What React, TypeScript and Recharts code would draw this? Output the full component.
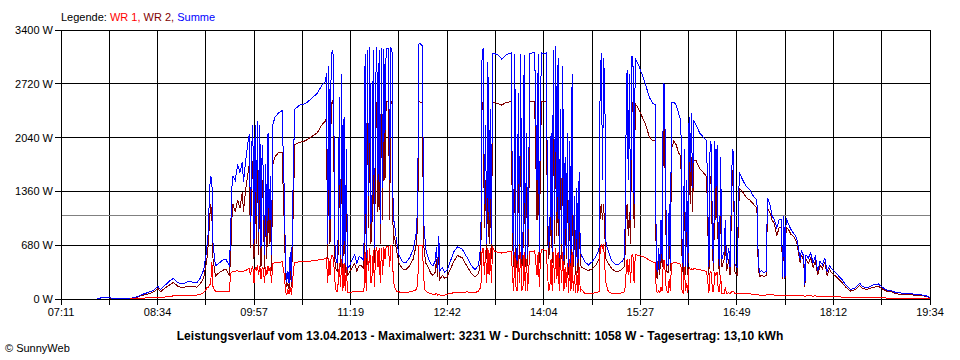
import { LineChart, Line, XAxis, YAxis, CartesianGrid, ReferenceLine } from 'recharts'

// minute of day for each sample
const minutes = [
  462, 466, 470, 474, 480, 490, 496, 500, 505, 510,
  514, 516, 520, 524, 527, 531, 535, 539, 543, 547,
  550, 553, 555, 556, 557, 558, 559, 560, 561, 563,
  566, 569, 572, 575, 576, 577, 578, 580, 582, 584,
  586, 587, 589, 591, 592, 593, 594, 595, 596, 597,
  598, 599, 600, 601, 602, 603, 604, 605, 606, 607,
  608, 609, 610, 611, 612, 614, 617, 620, 622, 623,
  624, 625, 626, 627, 628, 630, 631, 635, 640, 645,
  650, 654, 657, 658, 659, 660, 661, 662, 663, 664,
  665, 666, 667, 668, 669, 670, 671, 672, 673, 674,
  675, 676, 678, 680, 682, 684, 686, 688, 690, 691,
  692, 693, 694, 695, 696, 697, 698, 699, 700, 701,
  702, 703, 704, 705, 706, 707, 708, 709, 711, 712,
  713, 714, 715, 716, 718, 720, 723, 726, 729, 732,
  735, 736, 737, 738, 740, 741, 742, 743, 745, 747,
  749, 751, 752, 753, 754, 755, 757, 759, 761, 764,
  767, 770, 774, 778, 782, 785, 788, 790, 791, 792,
  793, 794, 795, 796, 797, 798, 799, 800, 802, 805,
  808, 811, 814, 816, 817, 818, 819, 820, 821, 822,
  823, 824, 825, 826, 827, 828, 829, 830, 831, 832,
  834, 836, 838, 839, 840, 841, 842, 844, 846, 847,
  848, 849, 850, 851, 852, 853, 854, 855, 856, 857,
  858, 859, 860, 861, 862, 863, 864, 865, 866, 867,
  868, 869, 870, 871, 872, 873, 874, 875, 876, 879,
  882, 885, 888, 891, 892, 893, 894, 895, 896, 897,
  899, 902, 905, 908, 911, 913, 914, 915, 916, 917,
  918, 919, 920, 921, 922, 925, 928, 931, 934, 937,
  939, 940, 941, 942, 943, 944, 945, 946, 947, 948,
  949, 950, 951, 952, 953, 955, 957, 959, 961, 962,
  963, 964, 965, 966, 967, 968, 969, 970, 971, 972,
  974, 977, 980, 983, 985, 986, 987, 988, 989, 990,
  991, 992, 993, 994, 995, 996, 998, 999, 1000, 1002,
  1003, 1005, 1006, 1007, 1009, 1011, 1014, 1017, 1020, 1023,
  1026, 1027, 1028, 1030, 1032, 1034, 1035, 1037, 1039, 1041,
  1043, 1045, 1047, 1048, 1049, 1050, 1051, 1053, 1055, 1058,
  1060, 1062, 1063, 1064, 1066, 1067, 1068, 1070, 1072, 1074,
  1076, 1078, 1080, 1082, 1084, 1086, 1088, 1090, 1094, 1098,
  1102, 1106, 1110, 1114, 1116, 1120, 1126, 1130, 1133, 1137,
  1141, 1145, 1150, 1155, 1160, 1165, 1170, 1173, 1174,
]

const wr1 = [
  0, 0, 0, 0, 0, 0, 5, 10, 15, 15,
  20, 20, 25, 30, 40, 40, 45, 45, 50, 50,
  60, 80, 120, 150, 150, 170, 200, 470, 150, 100,
  100, 100, 100, 100, 320, 340, 350, 350, 360, 340,
  350, 350, 360, 380, 380, 300, 380, 420, 200, 400,
  350, 430, 300, 420, 250, 400, 380, 200, 400, 300,
  420, 350, 400, 200, 450, 460, 460, 470, 300, 100,
  50, 120, 60, 150, 50, 400, 460, 470, 470, 480,
  490, 500, 510, 520, 200, 520, 300, 540, 550, 520,
  250, 120, 90, 200, 450, 150, 500, 100, 450, 100,
  400, 80, 80, 90, 90, 90, 90, 90, 100, 600,
  100, 620, 350, 650, 200, 300, 620, 150, 600, 650,
  400, 650, 200, 650, 300, 660, 500, 660, 660, 400,
  670, 670, 300, 150, 100, 90, 80, 80, 90, 100,
  120, 200, 680, 680, 680, 300, 120, 100, 80, 70,
  60, 60, 70, 50, 60, 50, 50, 50, 60, 70,
  80, 80, 80, 90, 80, 80, 100, 150, 600, 650,
  300, 620, 200, 650, 300, 640, 200, 650, 600, 590,
  580, 590, 600, 600, 300, 100, 600, 150, 100, 550,
  200, 600, 100, 150, 600, 100, 500, 100, 400, 600,
  600, 610, 300, 600, 150, 550, 620, 620, 610, 300,
  100, 150, 500, 100, 600, 200, 650, 250, 600, 100,
  550, 200, 600, 100, 400, 150, 450, 80, 500, 100,
  600, 100, 300, 80, 350, 80, 400, 100, 120, 70,
  70, 70, 80, 90, 650, 680, 650, 680, 400, 200,
  90, 70, 70, 70, 80, 90, 300, 500, 300, 500,
  200, 550, 560, 200, 560, 550, 540, 520, 490, 470,
  460, 100, 80, 100, 80, 150, 100, 480, 490, 200,
  100, 80, 250, 100, 450, 460, 460, 450, 440, 100,
  80, 400, 100, 200, 80, 400, 370, 380, 370, 380,
  380, 370, 360, 350, 80, 350, 340, 100, 100, 340,
  300, 340, 100, 100, 300, 70, 70, 150, 70, 80,
  70, 100, 100, 70, 70, 70, 70, 70, 65, 60,
  60, 60, 50, 50, 50, 50, 60, 60, 55, 50,
  50, 50, 50, 40, 50, 40, 50, 50, 50, 50,
  45, 45, 40, 45, 40, 30, 40, 40, 40, 35,
  40, 35, 35, 35, 30, 30, 30, 30, 30, 25,
  20, 15, 15, 20, 15, 15, 15, 15, 15, 12,
  12, 10, 10, 10, 8, 8, 5, 3, 0,
]

const wr2 = [
  0, 15, 20, 10, 5, 5, 20, 45, 60, 90,
  130, 90, 140, 180, 210, 160, 140, 160, 160, 150,
  190, 270, 430, 540, 700, 1000, 1200, 1050, 500, 290,
  330, 360, 380, 300, 500, 1000, 1200, 1100, 1250, 1150,
  1350, 1100, 1400, 1600, 1700, 650, 1500, 1750, 500, 1700,
  700, 1750, 550, 1700, 400, 1500, 1200, 380, 1300, 500,
  1600, 700, 1200, 350, 1700, 1800, 1850, 1850, 900, 300,
  150, 200, 120, 400, 150, 1400, 1950, 1980, 2000, 2050,
  2100, 2200, 2250, 2300, 500, 2350, 700, 2450, 2500, 2450,
  500, 380, 350, 600, 2100, 400, 2300, 360, 1800, 330,
  1500, 300, 350, 400, 450, 350, 430, 420, 380, 2400,
  400, 2480, 900, 2490, 700, 1000, 2480, 450, 2000, 2490,
  1100, 2490, 700, 2490, 1000, 2490, 1500, 2490, 2490, 1000,
  2490, 2490, 700, 800, 600, 450, 380, 370, 420, 500,
  700, 1000, 2490, 2490, 2480, 700, 550, 450, 400, 330,
  300, 340, 500, 280, 700, 250, 300, 260, 280, 380,
  480, 550, 520, 420, 320, 280, 320, 500, 2450, 2490,
  900, 1500, 500, 2300, 700, 1700, 500, 2490, 2480, 2470,
  2450, 2480, 2490, 2490, 800, 400, 2480, 500, 380, 2000,
  500, 2490, 380, 600, 2480, 400, 1500, 420, 1200, 2490,
  2490, 2490, 1000, 2490, 450, 2000, 2490, 2490, 2490, 800,
  500, 700, 1500, 450, 2490, 700, 2490, 800, 2400, 400,
  1800, 500, 2300, 350, 1300, 500, 1600, 300, 1500, 350,
  2200, 400, 900, 300, 1000, 330, 1200, 450, 400, 380,
  360, 380, 420, 500, 1100, 1200, 1000, 1200, 800, 500,
  450, 380, 350, 350, 380, 420, 1000, 1200, 800, 1100,
  700, 2480, 2480, 900, 2470, 2400, 2300, 2200, 2050, 2000,
  2000, 300, 250, 500, 300, 800, 400, 2150, 2150, 1000,
  350, 330, 900, 350, 1900, 2000, 1950, 1850, 1800, 500,
  300, 1500, 300, 1200, 300, 1800, 1200, 1800, 1100, 1750,
  1750, 1650, 1600, 1550, 300, 1550, 1500, 600, 350, 1550,
  1000, 1500, 500, 300, 1400, 400, 500, 800, 350, 500,
  300, 1600, 1650, 350, 300, 1400, 1350, 1280, 1250, 1200,
  1150, 500, 280, 300, 280, 300, 1150, 1100, 1000, 950,
  800, 900, 900, 250, 950, 250, 900, 880, 820, 780,
  720, 540, 450, 560, 480, 150, 500, 450, 520, 400,
  480, 300, 430, 380, 470, 300, 380, 330, 280, 220,
  150, 100, 120, 170, 140, 120, 150, 160, 130, 100,
  90, 65, 60, 55, 50, 45, 35, 20, 5,
]

const summe = [
  0, 18, 25, 12, 6, 8, 28, 55, 80, 110,
  160, 115, 175, 230, 260, 205, 190, 215, 215, 205,
  260, 370, 560, 700, 850, 1400, 1540, 1520, 690, 420,
  450, 490, 500, 420, 800, 1400, 1550, 1500, 1700, 1600,
  1730, 1480, 1760, 2000, 2080, 970, 1900, 2200, 700, 2200,
  1050, 2250, 850, 2200, 640, 1950, 1600, 560, 1700, 800,
  2100, 1000, 1550, 560, 2200, 2300, 2350, 2380, 1300, 400,
  220, 350, 200, 600, 220, 1900, 2400, 2450, 2470, 2530,
  2600, 2700, 2750, 2850, 700, 2950, 1000, 3050, 3150, 3050,
  750, 520, 450, 800, 2550, 550, 2850, 460, 2300, 430,
  1900, 380, 430, 500, 560, 450, 540, 520, 480, 3100,
  520, 3150, 1300, 3180, 950, 1350, 3150, 650, 2700, 3180,
  1500, 3150, 950, 3170, 1400, 3160, 2100, 3170, 3160, 1500,
  3170, 3160, 1000, 970, 720, 560, 470, 460, 520, 620,
  850, 1300, 3220, 3231, 3200, 1000, 800, 620, 520, 450,
  420, 480, 660, 380, 800, 360, 400, 340, 360, 480,
  600, 660, 630, 530, 420, 370, 430, 700, 3100, 3170,
  1200, 2200, 700, 3000, 1000, 2400, 700, 3100, 3100, 3080,
  3030, 3080, 3100, 3110, 1100, 550, 3100, 650, 480, 2600,
  700, 3100, 500, 800, 3090, 520, 2100, 550, 1700, 3100,
  3110, 3110, 1500, 3100, 600, 2600, 3110, 3100, 3110, 1100,
  650, 900, 2100, 600, 3150, 1000, 3200, 1100, 3050, 520,
  2400, 700, 2950, 450, 1800, 650, 2100, 400, 2000, 450,
  2850, 550, 1300, 420, 1400, 450, 1600, 600, 550, 470,
  430, 470, 530, 620, 2800, 3110, 1500, 3050, 2600, 700,
  600, 480, 440, 440, 480, 540, 2000, 2900, 1500, 2850,
  1000, 3060, 3060, 1200, 3040, 2950, 2830, 2700, 2550, 2470,
  2460, 400, 340, 650, 380, 1000, 500, 2730, 2700, 1400,
  450, 420, 1200, 450, 2480, 2490, 2450, 2350, 2250, 700,
  400, 1900, 420, 1500, 400, 2300, 1600, 2350, 1400, 2250,
  2200, 2100, 2050, 2000, 400, 2000, 1950, 800, 450, 2000,
  1400, 1950, 650, 420, 1800, 500, 600, 1000, 450, 650,
  400, 1900, 1850, 450, 400, 1600, 1500, 1420, 1380, 1300,
  1250, 600, 340, 360, 330, 350, 1280, 1200, 1050, 1000,
  900, 1000, 1000, 280, 1050, 270, 1020, 950, 880, 820,
  770, 590, 500, 620, 540, 180, 560, 520, 580, 460,
  540, 350, 480, 430, 520, 350, 420, 380, 320, 260,
  180, 120, 140, 200, 160, 140, 180, 190, 150, 115,
  105, 80, 75, 68, 62, 55, 45, 25, 8,
]

const timeLabels = ['07:11', '08:34', '09:57', '11:19', '12:42', '14:04', '15:27', '16:49', '18:12', '19:34']
const powerTicks = [0, 680, 1360, 2040, 2720, 3400]
const average = 1058
const dayStart = 431
const dayEnd = 1174

const gridTicks = Array.from({ length: 19 }, (_, i) => dayStart + (i * (dayEnd - dayStart)) / 18)

const data = minutes.map((m, i) => ({ m, wr1: wr1[i], wr2: wr2[i], summe: summe[i] }))

const font = '"Liberation Sans", Arial, sans-serif'

export default function App() {
  return (
    <div style={{ position: 'absolute', left: 0, top: 0, width: 960, height: 360, background: '#fff', fontFamily: font }}>
      <style>{`.recharts-cartesian-grid line, .recharts-cartesian-axis-line, .recharts-cartesian-axis-tick-line, .recharts-reference-line line, .recharts-line-curve { shape-rendering: crispEdges; }`}</style>
      <LineChart width={960} height={360} data={data} margin={{ top: 30, right: 30, bottom: 31, left: 0 }}>
        <CartesianGrid stroke="#000" strokeWidth={1} />
        <XAxis
          dataKey="m"
          type="number"
          domain={[dayStart, dayEnd]}
          ticks={gridTicks}
          interval={0}
          height={30}
          tickSize={6}
          tickMargin={3}
          stroke="#000"
          tick={{ fill: '#000', fontSize: 11, fontFamily: font }}
          tickFormatter={(_v: number, i: number) => (i % 2 === 0 ? timeLabels[i / 2] : '')}
        />
        <YAxis
          type="number"
          domain={[0, 3400]}
          ticks={powerTicks}
          interval={0}
          width={61}
          tickSize={6}
          tickMargin={2}
          stroke="#000"
          tick={{ fill: '#000', fontSize: 11, fontFamily: font }}
          tickFormatter={(v: number) => `${v} W`}
        />
        <ReferenceLine y={average} stroke="#808080" strokeWidth={1} />
        <Line type="linear" dataKey="wr2" stroke="#800000" strokeWidth={1} dot={false} isAnimationActive={false} />
        <Line type="linear" dataKey="summe" stroke="#0000ff" strokeWidth={1} dot={false} isAnimationActive={false} />
        <Line type="linear" dataKey="wr1" stroke="#ff0000" strokeWidth={1} dot={false} isAnimationActive={false} />
      </LineChart>
      <div style={{ position: 'absolute', left: 61, top: 11, fontSize: 11, lineHeight: '13px', whiteSpace: 'nowrap' }}>
        <span style={{ color: '#000' }}>Legende: </span>
        <span style={{ color: '#ff0000' }}>WR 1, </span>
        <span style={{ color: '#800000' }}>WR 2, </span>
        <span style={{ color: '#0000ff' }}>Summe</span>
      </div>
      <div style={{ position: 'absolute', left: 0, width: 960, top: 329, textAlign: 'center', fontSize: 12, fontWeight: 'bold', lineHeight: '14px', letterSpacing: 0.1, whiteSpace: 'nowrap' }}>
        Leistungsverlauf vom 13.04.2013 - Maximalwert: 3231 W - Durchschnitt: 1058 W - Tagesertrag: 13,10 kWh
      </div>
      <div style={{ position: 'absolute', left: 5, top: 342, fontSize: 11, lineHeight: '13px', whiteSpace: 'nowrap' }}>
        © SunnyWeb
      </div>
    </div>
  )
}
